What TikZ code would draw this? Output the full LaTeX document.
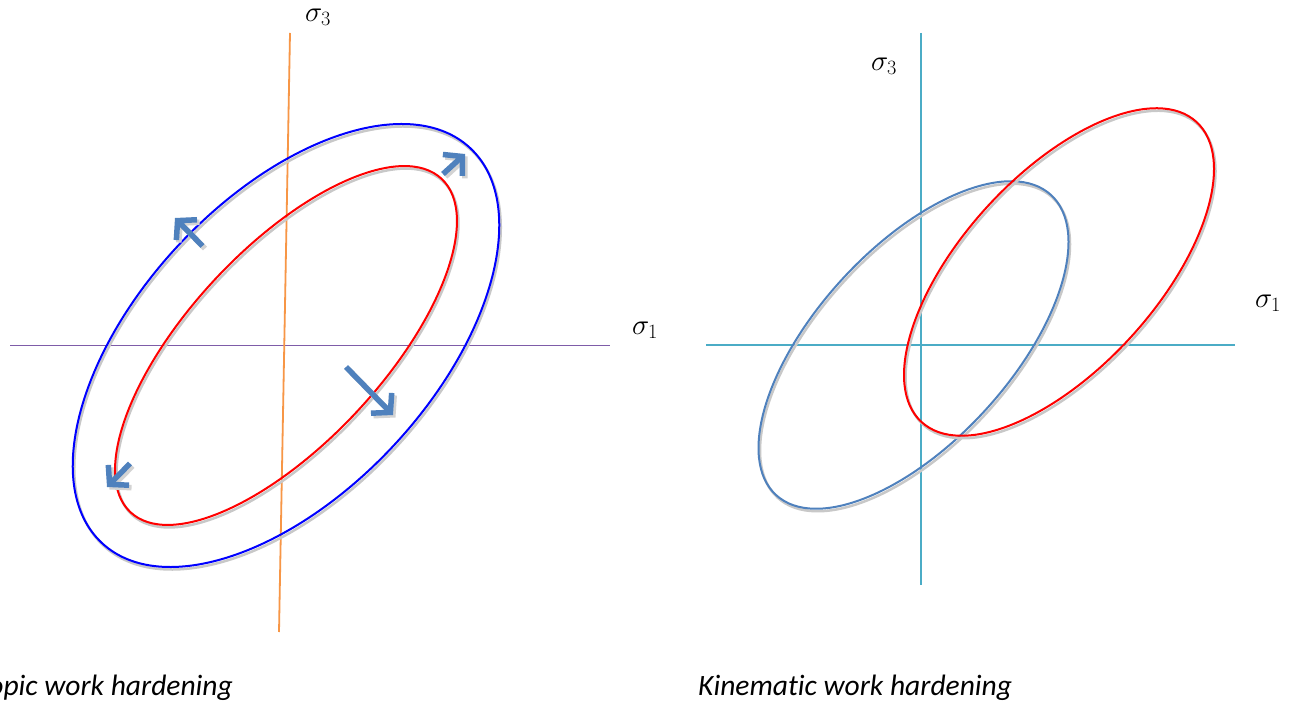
\RequirePackage{fix-cm}
\documentclass[tikz,border=0pt]{standalone}
\usepackage{fontspec}
\newfontfamily\capfont[Ligatures=NoCommon]{Carlito}
\usetikzlibrary{arrows.meta}
\definecolor{sblue}{HTML}{4F81BD}
\definecolor{axpurple}{HTML}{7E5CA8}
\definecolor{axorange}{HTML}{F79646}
\definecolor{axteal}{HTML}{4BACC6}
\definecolor{shadowgray}{HTML}{C8C8C8}
\begin{document}
\begin{tikzpicture}[x=1pt,y=1pt,
  ax/.style={line width=1.8pt},
  ell/.style={line width=2pt},
  shd/.style={line width=2.5pt, draw=shadowgray},
  harr/.style={line width=5.5pt, draw=sblue, -{Straight Barb[length=13pt,width=29pt]}},
  harrs/.style={line width=5.5pt, draw=shadowgray!80, -{Straight Barb[length=13pt,width=29pt]}},
  lab/.style={font=\fontsize{29}{34}\selectfont, inner sep=0pt},
  captext/.style={font=\capfont\itshape\fontsize{29.5}{34}\selectfont, inner sep=0pt}]
\useasboundingbox (0,0) rectangle (1295,702);
\clip (0,0) rectangle (1295,702);
\fill[white] (0,0) rectangle (1295,702);

% ---- left: isotropic ----
\draw[ax, axpurple] (10,356.5) -- (610,356.5);
\draw[ax, axorange] (290,669) -- (279,70);
\node[lab] (s3L) at (318,685) {$\sigma_3$};
\node[lab] (s1L) at (645,372) {$\sigma_1$};

\draw[shd, rotate around={47:(287.5,354)}] (287.5,354) ellipse [x radius=228, y radius=97];
\draw[ell, red, rotate around={47:(286,356.5)}] (286,356.5) ellipse [x radius=228, y radius=97];
\draw[shd, rotate around={47:(287.5,354)}] (287.5,354) ellipse [x radius=270, y radius=147];
\draw[ell, blue, rotate around={47:(286,356.5)}] (286,356.5) ellipse [x radius=270, y radius=147];

\draw[harrs] (205,453.5) -- (177.5,481.5);
\draw[harrs] (445.5,525.5) -- (467.5,545.5);
\draw[harrs] (348.5,332.5) -- (395.5,284.5);
\draw[harrs] (132.5,236) -- (109.5,212.5);
\draw[harr] (202.5,456) -- (175,484);
\draw[harr] (443,528) -- (465,548);
\draw[harr] (346,335) -- (393,287);
\draw[harr] (130,238.5) -- (107,215);

\node[captext, anchor=base east] (capL) at (233,7) {Isotropic work hardening};

% ---- right: kinematic ----
\draw[ax, axteal] (706,357) -- (1235,357);
\draw[ax, axteal] (921,669) -- (921,117);
\node[lab] (s3R) at (884,636) {$\sigma_3$};
\node[lab] (s1R) at (1268,399) {$\sigma_1$};

\draw[shd, rotate around={47.5:(915,354.5)}] (915,354.5) ellipse [x radius=203.5, y radius=97];
\draw[ell, sblue, rotate around={47.5:(913.5,357)}] (913.5,357) ellipse [x radius=203.5, y radius=97];
\draw[shd, rotate around={47.5:(1060.5,427.5)}] (1060.5,427.5) ellipse [x radius=203.5, y radius=97];
\draw[ell, red, rotate around={47.5:(1059,430)}] (1059,430) ellipse [x radius=203.5, y radius=97];

\node[captext, anchor=base west] (capR) at (698,7) {Kinematic work hardening};
\end{tikzpicture}
\end{document}
